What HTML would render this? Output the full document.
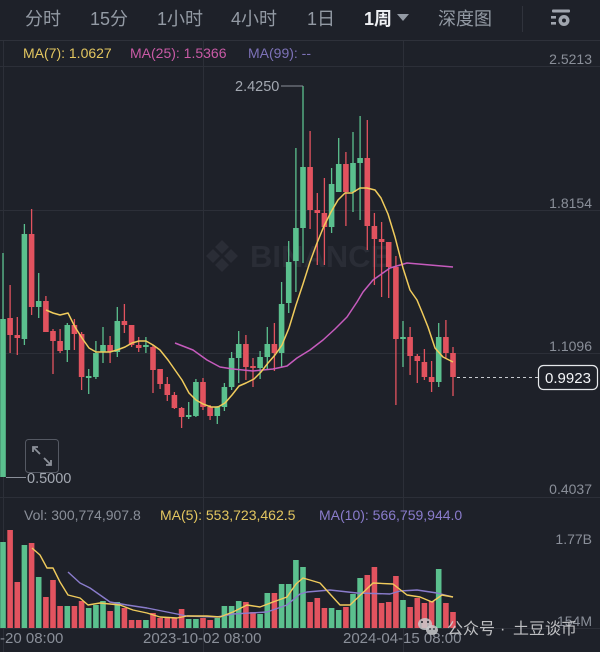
<!DOCTYPE html>
<html><head><meta charset="utf-8"><style>
html,body{margin:0;padding:0;background:#1e2129;}
svg{display:block}
text{font-family:"Liberation Sans","Noto Sans CJK SC",sans-serif;}
</style></head><body>
<svg width="600" height="652" viewBox="0 0 600 652" xmlns="http://www.w3.org/2000/svg">
<rect x="0" y="0" width="600" height="652" fill="#1e2129"/>
<!-- tabs -->
<g font-size="18" fill="#939aa4">
<text x="25" y="25">分时</text>
<text x="90" y="25">15分</text>
<text x="157" y="25">1小时</text>
<text x="231" y="25">4小时</text>
<text x="307" y="25">1日</text>
<text x="364" y="25" fill="#eef0f3" font-weight="bold">1周</text>
<text x="438" y="25">深度图</text>
</g>
<polygon points="397,14 409,14 403,21" fill="#939aa4"/>
<line x1="522.5" y1="6" x2="522.5" y2="32" stroke="#30333c" stroke-width="1"/>
<g fill="#a0a5ae">
<rect x="552" y="9.5" width="18" height="3" rx="1"/>
<rect x="551" y="16" width="5" height="2.6"/>
<rect x="551" y="22" width="5" height="2.6"/>
<circle cx="564" cy="20.5" r="5.5"/>
</g>
<circle cx="564" cy="20.5" r="2" fill="#1e2129"/>
<line x1="0" y1="40.5" x2="600" y2="40.5" stroke="#2e313a" stroke-width="1"/>
<!-- grid -->
<g stroke="#2c2f38" stroke-width="1">
<line x1="0" y1="66.5" x2="600" y2="66.5"/>
<line x1="0" y1="210.5" x2="600" y2="210.5"/>
<line x1="0" y1="353.5" x2="600" y2="353.5"/>
<line x1="0" y1="497.5" x2="600" y2="497.5"/>
<line x1="0" y1="628.5" x2="600" y2="628.5"/>
<line x1="3.5" y1="41" x2="3.5" y2="652"/>
<line x1="203.5" y1="41" x2="203.5" y2="652"/>
<line x1="403.5" y1="41" x2="403.5" y2="652"/>
</g>
<!-- BINANCE watermark -->
<g fill="#2a2d36">
<polygon points="222,240 229,247 222,254 215,247"/>
<polygon points="222,258 229,265 222,272 215,265"/>
<polygon points="213,249 220,256 213,263 206,256"/>
<polygon points="231,249 238,256 231,263 224,256"/>
<text x="250" y="267" font-size="31" font-weight="bold">BINANCE</text>
</g>
<!-- legend -->
<g font-size="14">
<text x="23" y="58" fill="#e3c660">MA(7): 1.0627</text>
<text x="130" y="58" fill="#c95aa6">MA(25): 1.5366</text>
<text x="248" y="58" fill="#7d72b8">MA(99): --</text>
</g>
<!-- candles -->
<path fill="#5bc08e" d="M0.2,319h5.6V477h-5.6zM21.6,234h5.6V339h-5.6zM35.9,301h5.6V307h-5.6zM64.5,325h5.6V350h-5.6zM85.9,376h5.6V378h-5.6zM93.1,353h5.6V377h-5.6zM100.2,345h5.6V352h-5.6zM114.5,321h5.6V352h-5.6zM143.1,345h5.6V347h-5.6zM185.9,415h5.6V417h-5.6zM193.1,382h5.6V416h-5.6zM214.5,407h5.6V416h-5.6zM221.6,387h5.6V407h-5.6zM228.8,358h5.6V387h-5.6zM235.9,344h5.6V358h-5.6zM257.3,357h5.6V368h-5.6zM264.5,344h5.6V357h-5.6zM278.8,304h5.6V353h-5.6zM285.9,262h5.6V303h-5.6zM293.1,228h5.6V261h-5.6zM300.2,167h5.6V228h-5.6zM328.8,184h5.6V227h-5.6zM335.9,164h5.6V192h-5.6zM350.2,163h5.6V192h-5.6zM357.3,158h5.6V163h-5.6zM400.2,337h5.6V339h-5.6zM435.9,337h5.6V382h-5.6z"/>
<path fill="none" stroke="#5bc08e" stroke-width="1.3" d="M3,253V477M24.4,224V345M38.7,273V318M67.3,323V362M88.7,369V394M95.9,341V379M103,327V363M117.3,307V357M145.9,337V353M188.7,402V419M195.9,379V417M217.3,406V424M224.4,383V411M231.6,352V390M238.7,331V383M260.1,351V379M267.3,327V369M281.6,282V367M288.7,241V313M295.9,148V292M303,86V263M331.6,168V233M338.7,138V192M353,132V212M360.1,116V220M403,321V367M438.7,323V387"/>
<path fill="#e2535f" d="M7.3,318h5.6V335h-5.6zM14.5,335h5.6V338h-5.6zM28.8,234h5.6V307h-5.6zM43.1,301h5.6V332h-5.6zM50.2,331h5.6V341h-5.6zM57.3,341h5.6V351h-5.6zM71.6,325h5.6V334h-5.6zM78.8,334h5.6V377h-5.6zM107.3,345h5.6V352h-5.6zM121.6,321h5.6V325h-5.6zM128.8,325h5.6V345h-5.6zM135.9,345h5.6V348h-5.6zM150.2,347h5.6V370h-5.6zM157.3,369h5.6V384h-5.6zM164.5,384h5.6V395h-5.6zM171.6,395h5.6V408h-5.6zM178.8,408h5.6V417h-5.6zM200.2,382h5.6V407h-5.6zM207.3,407h5.6V416h-5.6zM243.1,344h5.6V367h-5.6zM250.2,366h5.6V368h-5.6zM271.6,344h5.6V353h-5.6zM307.3,167h5.6V210h-5.6zM314.5,210h5.6V213h-5.6zM321.6,213h5.6V227h-5.6zM343.1,164h5.6V192h-5.6zM364.5,158h5.6V226h-5.6zM371.6,226h5.6V239h-5.6zM378.8,239h5.6V242h-5.6zM385.9,242h5.6V267h-5.6zM393.1,267h5.6V339h-5.6zM407.3,337h5.6V356h-5.6zM414.5,356h5.6V361h-5.6zM421.6,362h5.6V377h-5.6zM428.8,377h5.6V382h-5.6zM443.1,337h5.6V353h-5.6zM450.2,353h5.6V377h-5.6z"/>
<path fill="none" stroke="#e2535f" stroke-width="1.3" d="M10.1,285V353M17.3,317V355M31.6,209V315M45.9,296V332M53,329V374M60.1,329V353M74.4,319V350M81.6,332V390M110.1,336V363M124.4,304V333M131.6,325V347M138.7,337V352M153,345V393M160.1,369V389M167.3,377V401M174.4,392V409M181.6,407V428M203,378V410M210.1,405V420M245.9,335V380M253,358V387M274.4,323V371M310.1,131V229M317.3,193V265M324.4,178V265M345.9,152V226M367.3,120V250M374.4,213V285M381.6,222V297M388.7,242V298M395.9,256V405M410.1,327V375M417.3,354V383M424.4,349V380M431.6,361V392M445.9,320V359M453,347V396"/>
<!-- MA lines -->
<polyline fill="none" stroke="#c65bbd" stroke-width="1.5" stroke-linejoin="round" points="175,343 193,350 207,360 220,367 233,369 253,371 273,369 287,366 297,358 310,350 323,340 335,329 347,317 357,302 363,292 373,280 390,268 407,263 430,265 453,267"/>
<polyline fill="none" stroke="#f0cb5c" stroke-width="1.5" stroke-linejoin="round" points="46,310 53,313 60,315 68,313 75,327 82,338 89,348 96,352 103,352 110,352 117,350 125,347 132,343 139,341 146,341 153,345 160,350 168,360 175,370 182,380 189,393 196,400 203,404 211,407 218,407 225,403 232,395 239,386 246,383 254,379 261,372 268,363 275,355 282,345 289,328 296,305 303,284 310,262 317,243 324,226 331,212 338,200 345,193 352,193 360,188 367,188 375,190 381,198 388,214 395,237 403,268 410,290 417,300 422,312 428,327 435,348 443,357 453,362"/>
<!-- high/low markers -->
<line x1="281" y1="86" x2="303" y2="86" stroke="#8a8f99" stroke-width="1"/>
<text x="235" y="91" font-size="14.5" fill="#a3a8b1">2.4250</text>
<line x1="6" y1="477.5" x2="26" y2="477.5" stroke="#8a8f99" stroke-width="1"/>
<text x="27" y="483" font-size="14.5" fill="#a3a8b1">0.5000</text>
<!-- expand icon -->
<rect x="25.5" y="439.5" width="33" height="33" rx="3" fill="none" stroke="#555963" stroke-width="1"/>
<g stroke="#8d919a" stroke-width="1.8" fill="none">
<line x1="33" y1="447" x2="40" y2="454"/>
<polyline points="33,452 33,447 38,447"/>
<line x1="44" y1="458" x2="51" y2="465"/>
<polyline points="46,465 51,465 51,460"/>
</g>
<!-- price axis -->
<g font-size="14" fill="#8a8f99" text-anchor="end">
<text x="592" y="64">2.5213</text>
<text x="592" y="208">1.8154</text>
<text x="592" y="351">1.1096</text>
<text x="592" y="494">0.4037</text>
<text x="592" y="544">1.77B</text>
<text x="592" y="626">154M</text>
</g>
<!-- current price -->
<line x1="457" y1="377.5" x2="538" y2="377.5" stroke="#c8cbd0" stroke-width="1" stroke-dasharray="3,3"/>
<rect x="538.5" y="365.5" width="59" height="24" rx="5" fill="#1e2129" stroke="#e6e8eb" stroke-width="1.2"/>
<text x="568" y="383" font-size="15" fill="#f3f4f6" text-anchor="middle">0.9923</text>
<!-- volume legend -->
<g font-size="14">
<text x="24" y="520" fill="#8a8f99">Vol: 300,774,907.8</text>
<text x="160" y="520" fill="#e3c660">MA(5): 553,723,462.5</text>
<text x="319" y="520" fill="#8a7ccc">MA(10): 566,759,944.0</text>
</g>
<!-- volume bars -->
<path fill="#5bc08e" d="M0.2,542h5.6V628h-5.6zM21.6,545h5.6V628h-5.6zM35.9,577h5.6V628h-5.6zM64.5,606h5.6V628h-5.6zM85.9,608h5.6V628h-5.6zM93.1,605h5.6V628h-5.6zM100.2,601h5.6V628h-5.6zM114.5,602h5.6V628h-5.6zM143.1,620h5.6V628h-5.6zM185.9,619h5.6V628h-5.6zM193.1,619h5.6V628h-5.6zM214.5,618h5.6V628h-5.6zM221.6,606h5.6V628h-5.6zM228.8,606h5.6V628h-5.6zM235.9,601h5.6V628h-5.6zM257.3,614h5.6V628h-5.6zM264.5,593h5.6V628h-5.6zM278.8,584h5.6V628h-5.6zM285.9,584h5.6V628h-5.6zM293.1,560h5.6V628h-5.6zM300.2,567h5.6V628h-5.6zM328.8,608h5.6V628h-5.6zM335.9,610h5.6V628h-5.6zM350.2,594h5.6V628h-5.6zM357.3,578h5.6V628h-5.6zM400.2,600h5.6V628h-5.6zM435.9,569h5.6V628h-5.6z"/>
<path fill="#e2535f" d="M7.3,530h5.6V628h-5.6zM14.5,582h5.6V628h-5.6zM28.8,543h5.6V628h-5.6zM43.1,597h5.6V628h-5.6zM50.2,580h5.6V628h-5.6zM57.3,606h5.6V628h-5.6zM71.6,606h5.6V628h-5.6zM78.8,601h5.6V628h-5.6zM107.3,611h5.6V628h-5.6zM121.6,608h5.6V628h-5.6zM128.8,620h5.6V628h-5.6zM135.9,620h5.6V628h-5.6zM150.2,613h5.6V628h-5.6zM157.3,618h5.6V628h-5.6zM164.5,618h5.6V628h-5.6zM171.6,618h5.6V628h-5.6zM178.8,609h5.6V628h-5.6zM200.2,618h5.6V628h-5.6zM207.3,620h5.6V628h-5.6zM243.1,602h5.6V628h-5.6zM250.2,612h5.6V628h-5.6zM271.6,593h5.6V628h-5.6zM307.3,602h5.6V628h-5.6zM314.5,598h5.6V628h-5.6zM321.6,608h5.6V628h-5.6zM343.1,607h5.6V628h-5.6zM364.5,575h5.6V628h-5.6zM371.6,567h5.6V628h-5.6zM378.8,603h5.6V628h-5.6zM385.9,602h5.6V628h-5.6zM393.1,576h5.6V628h-5.6zM407.3,607h5.6V628h-5.6zM414.5,598h5.6V628h-5.6zM421.6,603h5.6V628h-5.6zM428.8,601h5.6V628h-5.6zM443.1,603h5.6V628h-5.6zM450.2,612h5.6V628h-5.6z"/>
<polyline fill="none" stroke="#8a7ccc" stroke-width="1.4" stroke-linejoin="round" points="68,572 80,583 90,588 110,602 127,605 147,608 167,612 187,616 217,617 233,614 267,612 287,605 300,594 307,592 330,590 357,593 390,594 400,591 417,590 437,593 453,597"/>
<polyline fill="none" stroke="#f0cb5c" stroke-width="1.4" stroke-linejoin="round" points="32,548 40,555 47,568 53,568 60,582 68,595 80,598 88,605 100,603 120,605 133,610 147,613 160,617 177,618 187,616 207,616 220,617 233,612 247,605 260,607 273,602 287,597 296,584 303,578 320,583 340,605 350,605 373,583 393,584 407,595 420,597 432,602 442,595 453,597"/>
<!-- time axis -->
<g font-size="15" fill="#8a8f99">
<text x="0" y="643">-20 08:00</text>
<text x="143" y="643">2023-10-02 08:00</text>
<text x="343" y="643">2024-04-15 08:00</text>
</g>
<!-- bottom watermark -->
<g fill="#c9cacd" fill-opacity="0.85">
<ellipse cx="425" cy="624" rx="7" ry="6"/>
<ellipse cx="432" cy="630" rx="6" ry="5"/>
</g>
<g fill="#1e2129">
<circle cx="422" cy="622" r="1"/><circle cx="428" cy="622" r="1"/>
<circle cx="430" cy="629" r="0.9"/><circle cx="434" cy="629" r="0.9"/>
</g>
<g font-size="16" fill="#cfd0d3" fill-opacity="0.9">
<text x="447" y="634">公众号</text>
<text x="500" y="634">·</text>
<text x="513" y="634">土豆谈币</text>
</g>
</svg>
</body></html>
